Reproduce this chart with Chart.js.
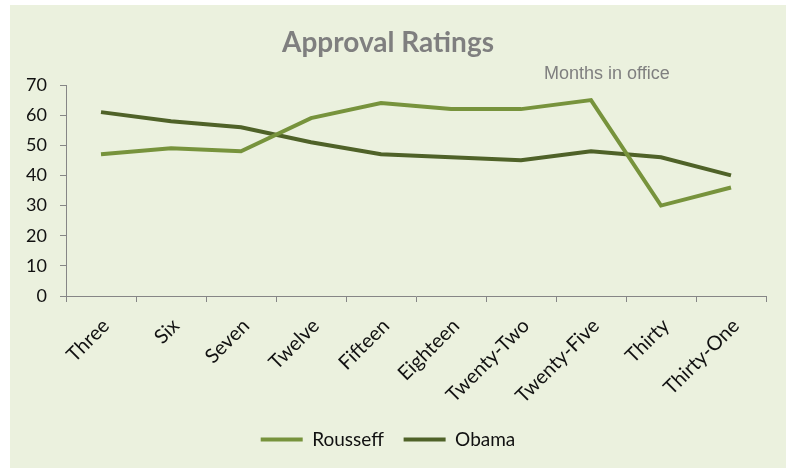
<!DOCTYPE html>
<html>
<head>
<meta charset="utf-8">
<script src="https://cdn.jsdelivr.net/npm/chart.js@4/dist/chart.umd.min.js"></script>
<style>
  html, body { margin: 0; padding: 0; background: #ffffff; }
  body { width: 786px; height: 469px; position: relative; overflow: hidden; }
  #panel { position: absolute; left: 10px; top: 5px; width: 776px; height: 463px; background: #EBF1DE; }
</style>
</head>
<body>
<div id="panel"><canvas id="chart" width="776" height="463"></canvas></div>
<script>
// 月份类别与两条折线数据
const months = ['Three', 'Six', 'Seven', 'Twelve', 'Fifteen', 'Eighteen', 'Twenty-Two', 'Twenty-Five', 'Thirty', 'Thirty-One'];
const rousseff = [47, 49, 48, 59, 64, 62, 62, 65, 30, 36];
const obama = [61, 58, 56, 51, 47, 46, 45, 48, 46, 40];
const yTicks = [0, 10, 20, 30, 40, 50, 60, 70];

const axisColor = '#868686';
const fontFamily = 'Lato, "Open Sans", sans-serif';

// 右上角的 "Months in office" 注释
const noteLabel = {
    id: 'noteLabel',
    afterDraw(chart) {
        const ctx = chart.ctx;
        ctx.save();
        ctx.font = '18px "Liberation Sans", Arial, sans-serif';
        ctx.fillStyle = '#7F7F7F';
        ctx.textAlign = 'left';
        ctx.textBaseline = 'middle';
        ctx.fillText('Months in office', 534, 69);
        ctx.restore();
    }
};

new Chart(document.getElementById('chart'), {
    type: 'line',
    data: {
        labels: months,
        datasets: [{
            label: 'Rousseff',
            data: rousseff,
            borderColor: '#77933C',
            backgroundColor: '#77933C',
            borderWidth: 4,
            pointRadius: 0,
            tension: 0
        }, {
            label: 'Obama',
            data: obama,
            borderColor: '#4F6228',
            backgroundColor: '#4F6228',
            borderWidth: 4,
            pointRadius: 0,
            tension: 0
        }]
    },
    options: {
        responsive: false,
        animation: false,
        layout: { padding: { left: 0, right: 20, top: 0, bottom: 9 } },
        plugins: {
            title: {
                display: true,
                text: 'Approval Ratings',
                color: '#7F7F7F',
                font: { family: fontFamily, size: 28, weight: 'bold', lineHeight: 1.2 },
                padding: { top: 21.2, bottom: 25.2 }
            },
            legend: {
                position: 'bottom',
                labels: {
                    color: '#111111',
                    font: { family: fontFamily, size: 19 },
                    boxWidth: 42,
                    boxHeight: 4,
                    padding: 10,
                    generateLabels(chart) {
                        return Chart.defaults.plugins.legend.labels.generateLabels(chart).map(function(item, i) {
                            item.lineWidth = 0;
                            // 第一个图例项后留出更宽的间距
                            if (i === 0) item.text = item.text + '  ';
                            return item;
                        });
                    }
                }
            },
            tooltip: { enabled: false }
        },
        scales: {
            x: {
                offset: true,
                afterFit(scale) { scale.height = 124; },
                grid: {
                    offset: true,
                    drawOnChartArea: false,
                    drawTicks: true,
                    tickLength: 6,
                    color: axisColor
                },
                border: { display: true, color: axisColor, width: 1 },
                ticks: {
                    color: '#111111',
                    minRotation: 45,
                    maxRotation: 45,
                    padding: 12,
                    labelOffset: 5,
                    font: { family: fontFamily, size: 20 }
                }
            },
            y: {
                min: 0,
                max: 70,
                afterFit(scale) { scale.width = 56; },
                afterBuildTicks(scale) {
                    scale.ticks = yTicks.map(function(v) { return { value: v }; });
                },
                grid: {
                    drawOnChartArea: false,
                    drawTicks: true,
                    tickLength: 6,
                    color: axisColor
                },
                border: { display: true, color: axisColor, width: 1 },
                ticks: {
                    color: '#111111',
                    padding: 13,
                    font: { family: fontFamily, size: 18 }
                }
            }
        }
    },
    plugins: [noteLabel]
});
</script>
</body>
</html>
